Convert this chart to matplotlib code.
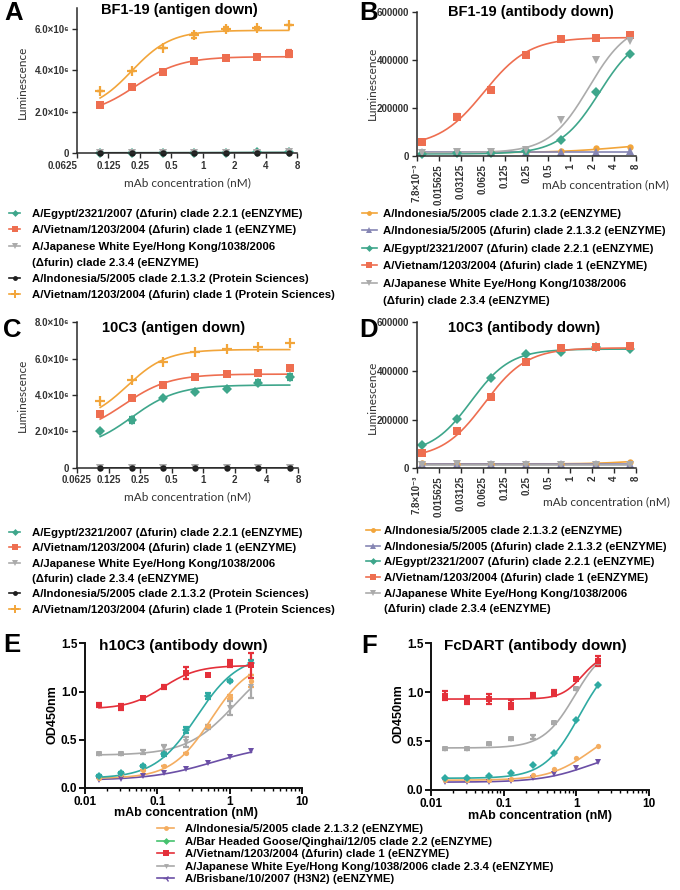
import numpy as np
import matplotlib
matplotlib.use("Agg")
import matplotlib.pyplot as plt
from matplotlib.lines import Line2D

plt.rcParams['font.family'] = ['Liberation Sans', 'DejaVu Sans']

# ------------------------------------------------------------------ data
conc_ac = [0.104, 0.208, 0.417, 0.833, 1.667, 3.333, 6.667]
conc_bd = [0.00914, 0.0274, 0.0823, 0.247, 0.741, 2.222, 6.667]
conc_ef = [0.015625, 0.03125, 0.0625, 0.125, 0.25, 0.5, 1.0, 2.0]

# Panel A (BF1-19 antigen down)
a_egypt = [0.01e6, 0.01e6, 0.01e6, 0.01e6, 0.02e6, 0.03e6, 0.06e6]
a_vietnam_ez = [2.31e6, 3.17e6, 3.92e6, 4.45e6, 4.61e6, 4.64e6, 4.80e6]
a_japanese = [0.01e6, 0.01e6, 0.01e6, 0.01e6, 0.01e6, 0.02e6, 0.04e6]
a_indonesia_ps = [0.0, 0.0, 0.0, 0.0, 0.0, 0.0, 0.0]
a_vietnam_ps = [3.00e6, 3.97e6, 5.05e6, 5.69e6, 5.98e6, 6.04e6, 6.20e6]
a_vietnam_ez_err = [0.08e6, 0.05e6, 0.05e6, 0.05e6, 0.05e6, 0.05e6, 0.15e6]
a_vietnam_ps_err = [0.0, 0.0, 0.0, 0.12e6, 0.10e6, 0.03e6, 0.0]
# fitted curve parameters: bottom, top, EC50, hill
a_fit_egypt = [0.01e6, 0.06e6, 5.0, 1.0]
a_fit_vietnam_ez = [1.8e6, 4.65e6, 0.227, 2.0]
a_fit_japanese = [0.01e6, 0.04e6, 5.0, 1.0]
a_fit_indonesia_ps = [0.0, 0.0, 1.0, 1.0]
a_fit_vietnam_ps = [2.0e6, 5.92e6, 0.209, 2.3]

# Panel B (BF1-19 antibody down)
b_indonesia = [15e3, 17e3, 18e3, 20e3, 22e3, 33e3, 40e3]
b_indonesia_df = [20e3, 20e3, 20e3, 20e3, 18e3, 18e3, 22e3]
b_egypt = [10e3, 12e3, 12e3, 22e3, 68e3, 267e3, 426e3]
b_vietnam = [61e3, 165e3, 277e3, 423e3, 490e3, 495e3, 506e3]
b_japanese = [15e3, 18e3, 20e3, 27e3, 152e3, 402e3, 479e3]
b_vietnam_err = [5e3, 10e3, 5e3, 5e3, 5e3, 5e3, 6e3]
b_fit_indonesia = [15e3, 60e3, 5.0, 1.0]
b_fit_indonesia_df = [20e3, 20e3, 1.0, 1.0]
b_fit_egypt = [10e3, 520e3, 2.5, 1.6]
b_fit_vietnam = [40e3, 495e3, 0.065, 1.4]
b_fit_japanese = [15e3, 560e3, 1.8, 1.6]

# Panel C (10C3 antigen down)
c_egypt = [2.02e6, 2.62e6, 3.82e6, 4.15e6, 4.33e6, 4.68e6, 5.00e6]
c_vietnam_ez = [2.94e6, 3.82e6, 4.53e6, 4.99e6, 5.14e6, 5.23e6, 5.47e6]
c_japanese = [0.0, 0.0, 0.0, 0.0, 0.0, 0.0, 0.0]
c_indonesia_ps = [0.0, 0.0, 0.0, 0.0, 0.0, 0.0, 0.0]
c_vietnam_ps = [3.69e6, 4.83e6, 5.80e6, 6.35e6, 6.53e6, 6.66e6, 6.84e6]
c_egypt_err = [0.05e6, 0.15e6, 0.05e6, 0.05e6, 0.05e6, 0.15e6, 0.15e6]
c_fit_egypt = [1.0e6, 4.55e6, 0.208, 2.0]
c_fit_vietnam_ez = [1.8e6, 5.15e6, 0.175, 2.0]
c_fit_japanese = [0.0, 0.0, 1.0, 1.0]
c_fit_indonesia_ps = [0.0, 0.0, 1.0, 1.0]
c_fit_vietnam_ps = [2.5e6, 6.5e6, 0.188, 2.3]

# Panel D (10C3 antibody down)
d_indonesia = [20e3, 18e3, 18e3, 18e3, 18e3, 18e3, 27e3]
d_indonesia_df = [18e3, 18e3, 18e3, 18e3, 18e3, 18e3, 18e3]
d_egypt = [97e3, 201e3, 371e3, 468e3, 478e3, 500e3, 489e3]
d_vietnam = [62e3, 153e3, 293e3, 437e3, 496e3, 500e3, 504e3]
d_japanese = [15e3, 16e3, 15e3, 15e3, 15e3, 15e3, 15e3]
d_fit_indonesia = [18e3, 40e3, 8.0, 1.5]
d_fit_indonesia_df = [18e3, 18e3, 1.0, 1.0]
d_fit_egypt = [60e3, 490e3, 0.0432, 1.6]
d_fit_vietnam = [40e3, 495e3, 0.066, 1.5]
d_fit_japanese = [15e3, 15e3, 1.0, 1.0]

# Panel E (h10C3 antibody down)
e_indonesia = [0.107, 0.141, 0.183, 0.228, 0.366, 0.638, 0.94, 1.11]
e_goose = [0.121, 0.155, 0.228, 0.348, 0.603, 0.955, 1.11, 1.30]
e_vietnam = [0.862, 0.838, 0.93, 1.05, 1.19, 1.17, 1.29, 1.27]
e_japanese = [0.355, 0.355, 0.37, 0.41, 0.48, 0.63, 0.83, 1.05]
e_brisbane = [0.086, 0.09, 0.12, 0.155, 0.193, 0.259, 0.321, 0.383]
e_indonesia_err = [0, 0, 0, 0, 0, 0.01, 0.02, 0.06]
e_goose_err = [0.01, 0.01, 0.01, 0.02, 0.03, 0.03, 0.01, 0.03]
e_vietnam_err = [0.02, 0.03, 0.01, 0.02, 0.06, 0.01, 0.04, 0.13]
e_japanese_err = [0.01, 0.01, 0.02, 0.04, 0.05, 0.02, 0.07, 0.12]
e_fit_indonesia = [0.1, 1.32, 0.55, 1.6]
e_fit_goose = [0.1, 1.38, 0.35, 1.5]
e_fit_vietnam = [0.82, 1.27, 0.12, 1.8]
e_fit_japanese = [0.34, 1.4, 1.2, 1.3]
e_fit_brisbane = [0.08, 0.46, 0.6, 1.0]

# Panel F (FcDART antibody down)
f_indonesia = [0.10, 0.10, 0.105, 0.115, 0.15, 0.21, 0.33, 0.45]
f_goose = [0.126, 0.126, 0.143, 0.17, 0.252, 0.381, 0.711, 1.078]
f_vietnam = [0.966, 0.918, 0.932, 0.874, 0.976, 0.993, 1.13, 1.32]
f_japanese = [0.415, 0.42, 0.466, 0.517, 0.544, 0.687, 1.03, 1.30]
f_brisbane = [0.08, 0.08, 0.085, 0.095, 0.12, 0.16, 0.22, 0.285]
f_vietnam_err = [0.05, 0.04, 0.05, 0.05, 0.02, 0.03, 0.01, 0.05]
f_japanese_err = [0.01, 0.01, 0.01, 0.01, 0.02, 0.01, 0.01, 0.02]
f_fit_indonesia = [0.1, 0.7, 1.6, 1.5]
f_fit_goose = [0.12, 1.4, 1.1, 1.8]
f_fit_vietnam = [0.93, 1.4, 1.2, 3.0]
f_fit_japanese = [0.43, 1.5, 0.95, 2.0]
f_fit_brisbane = [0.08, 0.42, 1.5, 1.3]

# tick labels
ac_xticks = [0.0625, 0.125, 0.25, 0.5, 1, 2, 4, 8]
ac_xticklabels = ['0.0625', '0.125', '0.25', '0.5', '1', '2', '4', '8']
bd_xticks = [0.0078125, 0.015625, 0.03125, 0.0625, 0.125, 0.25, 0.5, 1, 2, 4, 8]
bd_xticklabels = ['7.8×10⁻³', '0.015625', '0.03125', '0.0625', '0.125', '0.25',
                  '0.5', '1', '2', '4', '8']
a_yticks = [0, 2e6, 4e6, 6e6]
a_yticklabels = ['0', '2.0×10⁶', '4.0×10⁶', '6.0×10⁶']
c_yticks = [0, 2e6, 4e6, 6e6, 8e6]
c_yticklabels = ['0', '2.0×10⁶', '4.0×10⁶', '6.0×10⁶', '8.0×10⁶']
bd_yticks = [0, 200000, 400000, 600000]
bd_yticklabels = ['0', '200000', '400000', '600000']
ef_yticks = [0.0, 0.5, 1.0, 1.5]
ef_yticklabels = ['0.0', '0.5', '1.0', '1.5']

# legend labels
lbl_egypt = 'A/Egypt/2321/2007 (Δfurin) clade 2.2.1 (eENZYME)'
lbl_vietnam_ez = 'A/Vietnam/1203/2004 (Δfurin) clade 1 (eENZYME)'
lbl_japanese_1 = 'A/Japanese White Eye/Hong Kong/1038/2006'
lbl_japanese_2 = '(Δfurin) clade 2.3.4 (eENZYME)'
lbl_indonesia_ps = 'A/Indonesia/5/2005 clade 2.1.3.2 (Protein Sciences)'
lbl_vietnam_ps = 'A/Vietnam/1203/2004 (Δfurin) clade 1 (Protein Sciences)'
lbl_indonesia = 'A/Indonesia/5/2005 clade 2.1.3.2 (eENZYME)'
lbl_indonesia_df = 'A/Indonesia/5/2005 (Δfurin) clade 2.1.3.2 (eENZYME)'
lbl_goose = 'A/Bar Headed Goose/Qinghai/12/05 clade 2.2 (eENZYME)'
lbl_vietnam_e = 'A/Vietnam/1203/2004 (Δfurin) clade 1 (eENZYME)'
lbl_japanese_e = 'A/Japanese White Eye/Hong Kong/1038/2006 clade 2.3.4 (eENZYME)'
lbl_brisbane = 'A/Brisbane/10/2007 (H3N2) (eENZYME)'

# ------------------------------------------------------------------ styles
TEAL = '#3EA68B'
RED = '#EE6E50'
GRAY = '#ABABAB'
BLACK = '#1E1E1E'
ORANGE = '#F2A53A'
SLATE = '#8686B4'
E_ORANGE = '#F4AD60'
E_TEAL = '#2FAAA2'
E_GREEN = '#45C26E'
E_RED = '#E4303A'
E_GRAY = '#A9A9A9'
E_PURPLE = '#6B4FA6'

W, H = 680, 890
fig = plt.figure(figsize=(W / 100, H / 100), dpi=100)


def rect(l, t, r, b):
    return [l / W, 1 - b / H, (r - l) / W, (b - t) / H]


def fourpl(x, p):
    b, t, ec, h = p
    x = np.asarray(x, float)
    return b + (t - b) / (1.0 + (ec / x) ** h)


def draw(ax, x, y, fit, color, marker, ms, err=None, mew=0.0, lw=1.2, z=2):
    xs = np.geomspace(x[0], x[-1], 200)
    ax.plot(xs, fourpl(xs, fit), color=color, lw=lw, zorder=z)
    if err is not None:
        ax.errorbar(x, y, yerr=err, fmt='none', ecolor=color, elinewidth=1.6,
                    capsize=2.2, capthick=1.6, zorder=z + 0.1)
    ax.plot(x, y, ls='none', marker=marker, ms=ms, color=color, mfc=color,
            mec=color, mew=mew, zorder=z + 0.2, clip_on=False)


def style_ad(ax):
    for s in ['top', 'right']:
        ax.spines[s].set_visible(False)
    for s in ['left', 'bottom']:
        ax.spines[s].set_linewidth(1.1)
        ax.spines[s].set_color('#2a2a2a')
    ax.tick_params(direction='out', length=3.5, width=1.0, color='#2a2a2a',
                   labelsize=7, labelcolor='#333333', pad=2)
    for lab in ax.get_xticklabels() + ax.get_yticklabels():
        lab.set_fontweight('bold')
    ax.minorticks_off()


def style_ef(ax):
    for s in ['top', 'right']:
        ax.spines[s].set_visible(False)
    for s in ['left', 'bottom']:
        ax.spines[s].set_linewidth(1.4)
        ax.spines[s].set_color('#111111')
    ax.tick_params(which='major', direction='out', length=4, width=1.3,
                   labelsize=8.5, pad=1.5)
    ax.tick_params(which='minor', direction='out', length=2.5, width=1.0)
    for lab in ax.get_xticklabels() + ax.get_yticklabels():
        lab.set_fontweight('bold')


def h(color, marker, ms, mew=0.0):
    return Line2D([0], [0], color=color, lw=1.2, marker=marker, ms=ms,
                  mfc=color, mec=color, mew=mew)


blank = Line2D([0], [0], color='none', lw=0)

MS_SQ, MS_D, MS_TRI, MS_O, MS_PLUS = 5.2, 4.6, 5.4, 4.6, 7

# ------------------------------------------------------------------ A
axA = fig.add_axes(rect(77, 8, 297, 153))
axA.set_xscale('log', base=2)
draw(axA, conc_ac, a_egypt, a_fit_egypt, TEAL, 'D', MS_D)
draw(axA, conc_ac, a_vietnam_ez, a_fit_vietnam_ez, RED, 's', MS_SQ, err=a_vietnam_ez_err)
draw(axA, conc_ac, a_japanese, a_fit_japanese, GRAY, 'v', MS_TRI)
draw(axA, conc_ac, a_indonesia_ps, a_fit_indonesia_ps, BLACK, 'o', MS_O)
draw(axA, conc_ac, a_vietnam_ps, a_fit_vietnam_ps, ORANGE, '+', MS_PLUS, err=a_vietnam_ps_err, mew=1.6)
axA.set_xlim(0.0625, 8)
axA.set_ylim(0, 7e6)
axA.set_xticks(ac_xticks)
axA.set_xticklabels(ac_xticklabels)
axA.set_yticks(a_yticks)
axA.set_yticklabels(a_yticklabels)
style_ad(axA)
axA.get_xticklabels()[0].set_horizontalalignment('right')

# ------------------------------------------------------------------ B
axB = fig.add_axes(rect(417, 12.3, 636, 156.3))
axB.set_xscale('log', base=2)
draw(axB, conc_bd, b_indonesia, b_fit_indonesia, ORANGE, 'o', MS_O)
draw(axB, conc_bd, b_indonesia_df, b_fit_indonesia_df, SLATE, '^', MS_TRI)
draw(axB, conc_bd, b_egypt, b_fit_egypt, TEAL, 'D', MS_D)
draw(axB, conc_bd, b_vietnam, b_fit_vietnam, RED, 's', MS_SQ, err=b_vietnam_err)
draw(axB, conc_bd, b_japanese, b_fit_japanese, GRAY, 'v', MS_TRI)
axB.set_xlim(0.0078125, 8)
axB.set_ylim(0, 600000)
axB.set_xticks(bd_xticks)
axB.set_xticklabels(bd_xticklabels, rotation=90)
axB.set_yticks(bd_yticks)
axB.set_yticklabels(bd_yticklabels)
style_ad(axB)

# ------------------------------------------------------------------ C
axC = fig.add_axes(rect(77, 322.3, 298, 467.7))
axC.set_xscale('log', base=2)
draw(axC, conc_ac, c_egypt, c_fit_egypt, TEAL, 'D', MS_D, err=c_egypt_err)
draw(axC, conc_ac, c_vietnam_ez, c_fit_vietnam_ez, RED, 's', MS_SQ)
draw(axC, conc_ac, c_japanese, c_fit_japanese, GRAY, 'v', MS_TRI)
draw(axC, conc_ac, c_indonesia_ps, c_fit_indonesia_ps, BLACK, 'o', MS_O)
draw(axC, conc_ac, c_vietnam_ps, c_fit_vietnam_ps, ORANGE, '+', MS_PLUS, mew=1.6)
axC.set_xlim(0.0625, 8)
axC.set_ylim(0, 8e6)
axC.set_xticks(ac_xticks)
axC.set_xticklabels(ac_xticklabels)
axC.set_yticks(c_yticks)
axC.set_yticklabels(c_yticklabels)
style_ad(axC)

# ------------------------------------------------------------------ D
axD = fig.add_axes(rect(417, 322.3, 636, 468.3))
axD.set_xscale('log', base=2)
draw(axD, conc_bd, d_indonesia, d_fit_indonesia, ORANGE, 'o', MS_O)
draw(axD, conc_bd, d_indonesia_df, d_fit_indonesia_df, SLATE, '^', MS_TRI)
draw(axD, conc_bd, d_japanese, d_fit_japanese, GRAY, 'v', MS_TRI)
draw(axD, conc_bd, d_egypt, d_fit_egypt, TEAL, 'D', MS_D)
draw(axD, conc_bd, d_vietnam, d_fit_vietnam, RED, 's', MS_SQ)
axD.set_xlim(0.0078125, 8)
axD.set_ylim(0, 600000)
axD.set_xticks(bd_xticks)
axD.set_xticklabels(bd_xticklabels, rotation=90)
axD.set_yticks(bd_yticks)
axD.set_yticklabels(bd_yticklabels)
style_ad(axD)

# ------------------------------------------------------------------ E
axE = fig.add_axes(rect(85, 643.3, 302, 788))
axE.set_xscale('log')
draw(axE, conc_ef, e_brisbane, e_fit_brisbane, E_PURPLE, 'v', 4)
draw(axE, conc_ef, e_japanese, e_fit_japanese, E_GRAY, 'v', 4, err=e_japanese_err)
draw(axE, conc_ef, e_indonesia, e_fit_indonesia, E_ORANGE, 'o', 3.8, err=e_indonesia_err)
draw(axE, conc_ef, e_goose, e_fit_goose, E_TEAL, 'D', 3.6, err=e_goose_err)
draw(axE, conc_ef, e_vietnam, e_fit_vietnam, E_RED, 's', 4.2, err=e_vietnam_err)
axE.set_xlim(0.01, 10)
axE.set_ylim(0, 1.5)
axE.set_xticks([0.01, 0.1, 1, 10])
axE.set_xticklabels(['0.01', '0.1', '1', '10'])
axE.set_yticks(ef_yticks)
axE.set_yticklabels(ef_yticklabels)
style_ef(axE)

# ------------------------------------------------------------------ F
axF = fig.add_axes(rect(431, 643.3, 649, 790))
axF.set_xscale('log')
draw(axF, conc_ef, f_brisbane, f_fit_brisbane, E_PURPLE, 'v', 4)
draw(axF, conc_ef, f_indonesia, f_fit_indonesia, E_ORANGE, 'o', 3.8)
draw(axF, conc_ef, f_goose, f_fit_goose, E_TEAL, 'D', 3.6)
draw(axF, conc_ef, f_japanese, f_fit_japanese, E_GRAY, 'v', 4, err=f_japanese_err)
draw(axF, conc_ef, f_vietnam, f_fit_vietnam, E_RED, 's', 4.2, err=f_vietnam_err)
axF.set_xlim(0.01, 10)
axF.set_ylim(0, 1.5)
axF.set_xticks([0.01, 0.1, 1, 10])
axF.set_xticklabels(['0.01', '0.1', '1', '10'])
axF.set_yticks(ef_yticks)
axF.set_yticklabels(ef_yticklabels)
style_ef(axF)

# ------------------------------------------------------------------ text


def ftext(x, y, s, **kw):
    fig.text(x / W, 1 - y / H, s, **kw)


for (x, y, s) in [(4, 20, 'A'), (359, 20, 'B'), (3, 337, 'C'), (359, 337, 'D'),
                  (3, 652, 'E'), (361, 653, 'F')]:
    ftext(x, y, s, fontsize=18.5, fontweight='bold', va='baseline', ha='left')

for (x, y, s) in [(179, 14, 'BF1-19 (antigen down)'), (531, 16, 'BF1-19 (antibody down)'),
                  (174, 332, '10C3 (antigen down)'), (524, 332, '10C3 (antibody down)')]:
    ftext(x, y, s, fontsize=10.5, fontweight='bold', va='baseline', ha='center')
for (x, y, s) in [(183, 650, 'h10C3 (antibody down)'), (535, 650, 'FcDART (antibody down)')]:
    ftext(x, y, s, fontsize=11, fontweight='bold', va='baseline', ha='center')

LAB = dict(fontsize=8.5, color='#333333', family=['Lato', 'DejaVu Sans'])
for (x, y) in [(22, 82), (372, 83), (22, 395), (372, 397)]:
    ftext(x, y, 'Luminescence', rotation=90, ha='center', va='center', **LAB)
for (x, y) in [(187, 183), (605, 185), (187, 497), (606, 502)]:
    ftext(x, y, 'mAb concentration (nM)', ha='center', va='center', **LAB)

ftext(52, 715, 'OD450nm', rotation=90, ha='center', va='center', fontsize=9, fontweight='bold')
ftext(399, 714, 'OD450nm', rotation=90, ha='center', va='center', fontsize=9, fontweight='bold')
ftext(186, 813, 'mAb concentration (nM)', ha='center', va='center', fontsize=9, fontweight='bold')
ftext(540, 816, 'mAb concentration (nM)', ha='center', va='center', fontsize=9, fontweight='bold')

# ------------------------------------------------------------------ legends
LEG = dict(frameon=False, loc='upper left', borderaxespad=0, borderpad=0,
           prop={'weight': 'bold', 'size': 8.2}, handlelength=1.0,
           handletextpad=1.0, labelspacing=0.55)

fig.legend([h(TEAL, 'D', 3.5), h(RED, 's', 4.5), h(GRAY, 'v', 4), blank,
            h(BLACK, 'o', 3.5), h(ORANGE, '+', 6, 1.4)],
           [lbl_egypt, lbl_vietnam_ez, lbl_japanese_1, lbl_japanese_2,
            lbl_indonesia_ps, lbl_vietnam_ps],
           bbox_to_anchor=(9 / W, 1 - 209 / H), **LEG)

LEG_B = dict(LEG)
LEG_B.update(labelspacing=0.65, handlelength=1.3, handletextpad=0.55)
fig.legend([h(ORANGE, 'o', 3.5), h(SLATE, '^', 4), h(TEAL, 'D', 3.5), h(RED, 's', 4.5),
            h(GRAY, 'v', 4), blank],
           [lbl_indonesia, lbl_indonesia_df, lbl_egypt, lbl_vietnam_ez,
            lbl_japanese_1, lbl_japanese_2],
           bbox_to_anchor=(362 / W, 1 - 209 / H), **LEG_B)

LEG_C = dict(LEG)
LEG_C.update(labelspacing=0.47)
fig.legend([h(TEAL, 'D', 3.5), h(RED, 's', 4.5), h(GRAY, 'v', 4), blank,
            h(BLACK, 'o', 3.5), h(ORANGE, '+', 6, 1.4)],
           [lbl_egypt, lbl_vietnam_ez, lbl_japanese_1, lbl_japanese_2,
            lbl_indonesia_ps, lbl_vietnam_ps],
           bbox_to_anchor=(9 / W, 1 - 528 / H), **LEG_C)

LEG_D = dict(LEG)
LEG_D.update(labelspacing=0.5, handlelength=1.2, handletextpad=0.4)
fig.legend([h(ORANGE, 'o', 3.5), h(SLATE, '^', 4), h(TEAL, 'D', 3.5), h(RED, 's', 4.5),
            h(GRAY, 'v', 4), blank],
           [lbl_indonesia, lbl_indonesia_df, lbl_egypt, lbl_vietnam_ez,
            lbl_japanese_1, lbl_japanese_2],
           bbox_to_anchor=(366 / W, 1 - 526 / H), **LEG_D)

LEG_E = dict(LEG)
LEG_E.update(labelspacing=0.22, handlelength=1.5, handletextpad=1.0,
             prop={'weight': 'bold', 'size': 8.2})
fig.legend([h(E_ORANGE, 'o', 3.5), h(E_GREEN, 'D', 3.5), h(E_RED, 's', 4),
            h(E_GRAY, 'v', 3.5), h(E_PURPLE, '3', 4.5, 1.0)],
           [lbl_indonesia, lbl_goose, lbl_vietnam_e, lbl_japanese_e, lbl_brisbane],
           bbox_to_anchor=(157 / W, 1 - 824 / H), **LEG_E)

fig.savefig('out.png', dpi=100)
